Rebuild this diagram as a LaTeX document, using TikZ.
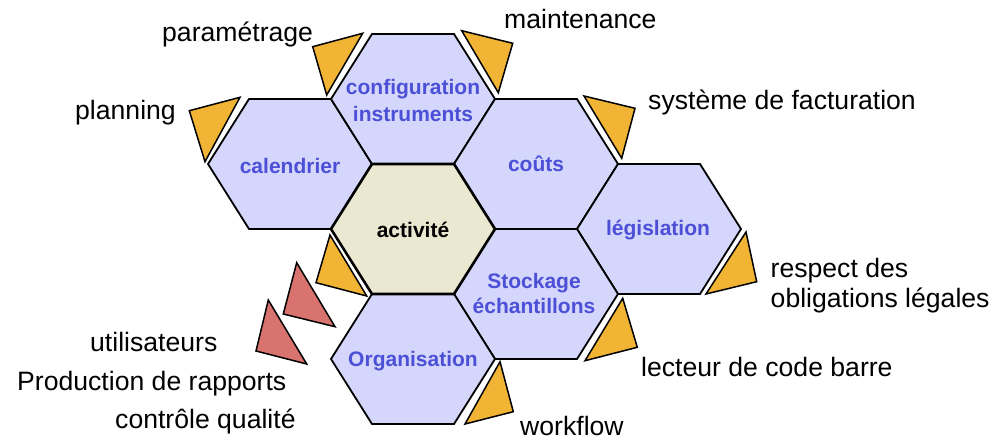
\documentclass[tikz,border=0pt]{standalone}
\usepackage{fontspec}
\setmainfont{Liberation Sans}
\definecolor{hexfill}{RGB}{213,214,252}
\definecolor{actfill}{RGB}{234,232,208}
\definecolor{wedgefill}{RGB}{241,180,52}
\definecolor{redfill}{RGB}{217,115,111}
\definecolor{hextext}{RGB}{75,80,215}
\tikzset{
	hexa/.style={draw=black,line width=1.8pt,line join=miter,fill=hexfill},
	hexlabel/.style={font=\fontsize{21}{27}\selectfont\bfseries,text=hextext,align=center,inner sep=0pt},
	outlabel/.style={font=\fontsize{26.6}{30}\selectfont,inner sep=0pt},
	wedge/.style={draw=black,line width=1.5pt,line join=miter,fill=wedgefill},
}
\begin{document}
\begin{tikzpicture}[x=1pt,y=-1pt]
\useasboundingbox (0,0) rectangle (1003,438);
% hexagones
\foreach \x/\y in {290/164,413/99,536/164,659/229,536/294,413/359}
	\draw[hexa] (\x+82,\y) -- (\x+41,\y+65) -- (\x-41,\y+65) -- (\x-82,\y) -- (\x-41,\y-65) -- (\x+41,\y-65) -- cycle;
\draw[hexa,fill=actfill,line width=2.6pt] (495,229) -- (454,294) -- (372,294) -- (331,229) -- (372,164) -- (454,164) -- cycle;
% triangles
\foreach \ax/\ay/\bx/\by/\cx/\cy in {326.7/95/362.7/33.3/312.7/46.7,
		461.7/30.7/498.3/92.7/512.7/43.3, 584/96/621.7/158.3/635/108.3,
		205/161.7/240/97.3/189.3/110.7, 746/232/706/294/756.7/281.7,
		622.7/298.3/585/360.7/637.3/347.3, 500/361.7/465/424/513.3/411.7,
		330/235/366.7/296/316/282.7}
	\draw[wedge] (\ax,\ay) -- (\bx,\by) -- (\cx,\cy) -- cycle;
\foreach \ax/\ay/\bx/\by/\cx/\cy in {296.7/262.7/335/326.7/283.3/314,
		268.3/300/306.7/364/256/351}
	\draw[wedge,fill=redfill] (\ax,\ay) -- (\bx,\by) -- (\cx,\cy) -- cycle;
% textes des hexagones
\node[hexlabel,anchor=base] (calendrier) at (290,173.3) {calendrier};
\node[hexlabel] (config) at (413,100) {configuration\\instruments};
\node[hexlabel,anchor=base] (couts) at (536,171.7) {coûts};
\node[hexlabel,anchor=base] (legislation) at (658,236) {législation};
\node[hexlabel,anchor=base,text=black] (activite) at (413,237.3) {activité};
\node[hexlabel,font=\fontsize{21}{25}\selectfont\bfseries] (stockage) at (534,293.5) {Stockage\\échantillons};
\node[hexlabel,anchor=base] (organisation) at (413,366.7) {Organisation};
% textes exterieurs
\node[outlabel,anchor=base west] (parametrage) at (162,42) {paramétrage};
\node[outlabel,anchor=base west] (planning) at (75,120) {planning};
\node[outlabel,anchor=base west] (maintenance) at (504,29) {maintenance};
\node[outlabel,anchor=base west] (facturation) at (648,110) {système de facturation};
\node[outlabel,anchor=west,align=left] (legales) at (770.5,286) {respect des\\obligations légales};
\node[outlabel,anchor=base west] (codebarre) at (641,376) {lecteur de code barre};
\node[outlabel,anchor=base west] (workflow) at (520,435.5) {workflow};
\node[outlabel,anchor=base west] (utilisateurs) at (90,351.7) {utilisateurs};
\node[outlabel,anchor=base west] (rapports) at (17,390) {Production de rapports};
\node[outlabel,anchor=base west] (qualite) at (115,428.3) {contrôle qualité};
\end{tikzpicture}
\end{document}
